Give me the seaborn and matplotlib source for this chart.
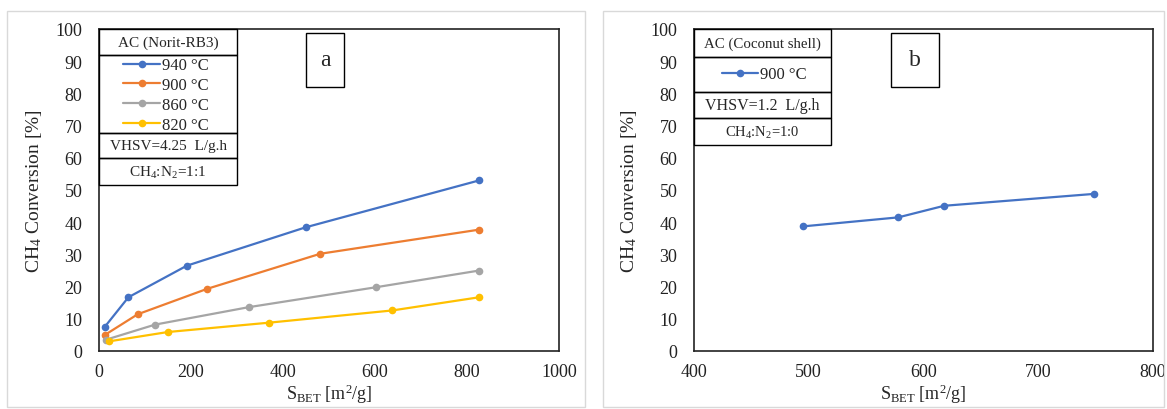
import numpy as np
import pandas as pd
import matplotlib
matplotlib.use("Agg")
import matplotlib.pyplot as plt
from matplotlib.patches import Rectangle
import seaborn as sns

# ---- data ----
temps_a = ["940 °C", "900 °C", "860 °C", "820 °C"]
x940 = [12, 64, 191, 449, 827]
y940 = [7.4, 16.7, 26.5, 38.4, 53.0]
x900 = [14, 84, 235, 481, 827]
y900 = [5.1, 11.4, 19.3, 30.2, 37.7]
x860 = [15, 122, 325, 602, 827]
y860 = [3.5, 8.2, 13.6, 19.8, 25.0]
x820 = [22, 150, 370, 638, 827]
y820 = [3.0, 5.9, 8.8, 12.6, 16.7]

xb = [495, 578, 618, 749]
yb = [38.7, 41.5, 45.1, 48.8]

yticks = [0, 10, 20, 30, 40, 50, 60, 70, 80, 90, 100]
xticks_a = [0, 200, 400, 600, 800, 1000]
xticks_b = [400, 500, 600, 700, 800]

colors = ["#4472C4", "#ED7D31", "#A5A5A5", "#FFC000"]

sns.set_theme(style="white")
plt.rcParams['font.family'] = ['Liberation Serif', 'DejaVu Serif']
plt.rcParams['mathtext.fontset'] = 'custom'
plt.rcParams['mathtext.rm'] = 'Liberation Serif'
plt.rcParams['mathtext.it'] = 'Liberation Serif:italic'

W, H = 1167, 410
fig = plt.figure(figsize=(W / 100, H / 100), dpi=100)
fig.patch.set_facecolor("white")


def fx(px):
    return px / W


def fy(py):
    return 1 - py / H


def frect(x0, y0, x1, y1, lw=1.0, ec="black"):
    r = Rectangle((fx(x0), fy(y1)), fx(x1) - fx(x0), fy(y0) - fy(y1),
                  transform=fig.transFigure, fill=False, ec=ec, lw=lw, zorder=5)
    fig.add_artist(r)


# panel frames
frect(7, 12, 585, 408, lw=1.0, ec="#d9d9d9")
frect(603, 12, 1164, 408, lw=1.0, ec="#d9d9d9")

ax1 = fig.add_axes([fx(99), fy(352), fx(559) - fx(99), fy(30) - fy(352)])
ax2 = fig.add_axes([fx(694), fy(352), fx(1153) - fx(694), fy(30) - fy(352)])

series = [(x940, y940), (x900, y900), (x860, y860), (x820, y820)]
frames = []
for t, (xs, ys) in zip(temps_a, series):
    frames.append(pd.DataFrame({"S": xs, "Conv": ys, "T": t}))
df_a = pd.concat(frames, ignore_index=True)

sns.lineplot(data=df_a, x="S", y="Conv", hue="T", hue_order=temps_a,
             palette=colors, marker="o", markersize=5.5, markeredgewidth=0,
             linewidth=1.6, sort=False, ax=ax1, legend=True)

df_b = pd.DataFrame({"S": xb, "Conv": yb, "T": "900 °C"})
sns.lineplot(data=df_b, x="S", y="Conv", hue="T", palette=["#4472C4"],
             marker="o", markersize=5.5, markeredgewidth=0, linewidth=1.6,
             sort=False, ax=ax2, legend=True)

for ax, xt in [(ax1, xticks_a), (ax2, xticks_b)]:
    ax.set_xlim(xt[0], xt[-1])
    ax.set_ylim(0, 100)
    ax.set_xticks(xt)
    ax.set_yticks(yticks)
    ax.tick_params(length=0, labelsize=13, colors="#222222")
    ax.tick_params(axis="x", pad=9)
    ax.tick_params(axis="y", pad=12)
    for s in ax.spines.values():
        s.set_visible(True)
        s.set_color("#222222")
        s.set_linewidth(1.2)
    ax.set_xlabel(r"S$_{\mathrm{BET}}$ [m$^{2}$/g]", fontsize=13, labelpad=1)
    ax.set_ylabel(r"CH$_{4}$ Conversion [%]", fontsize=14, labelpad=8)
    ax.set_facecolor("white")

# ---- table boxes for panel a ----
frect(99, 30, 237, 56)
frect(99, 56, 237, 134)
frect(99, 134, 237, 159)
frect(99, 159, 237, 186)
fig.text(fx(168), fy(43), "AC (Norit-RB3)", ha="center", va="center", fontsize=11)
fig.text(fx(168), fy(146.5), "VHSV=4.25  L/g.h", ha="center", va="center", fontsize=11)
fig.text(fx(168), fy(172.5), r"CH$_{4}$:N$_{2}$=1:1", ha="center", va="center", fontsize=11)

h, l = ax1.get_legend_handles_labels()
ax1.legend(h, l, loc="center", bbox_to_anchor=(fx(166), fy(96)),
           bbox_transform=fig.transFigure, frameon=False, fontsize=12,
           handlelength=2.2, handletextpad=0.1, labelspacing=0.22,
           borderpad=0, borderaxespad=0)

# label box a
frect(306, 34, 344, 88)
fig.text(fx(325), fy(61), "a", ha="center", va="center", fontsize=17)

# ---- table boxes for panel b ----
frect(694, 30, 831, 58)
frect(694, 58, 831, 93)
frect(694, 93, 831, 119)
frect(694, 119, 831, 146)
fig.text(fx(762.5), fy(44), "AC (Coconut shell)", ha="center", va="center", fontsize=10.7)
fig.text(fx(762.5), fy(106), "VHSV=1.2  L/g.h", ha="center", va="center", fontsize=11.5)
fig.text(fx(762.5), fy(132.5), r"CH$_{4}$:N$_{2}$=1:0", ha="center", va="center", fontsize=10.5)

h, l = ax2.get_legend_handles_labels()
ax2.legend(h, l, loc="center", bbox_to_anchor=(fx(764), fy(75.5)),
           bbox_transform=fig.transFigure, frameon=False, fontsize=12,
           handlelength=2.2, handletextpad=0.1, borderpad=0, borderaxespad=0)

frect(891, 34, 939, 88)
fig.text(fx(915), fy(61), "b", ha="center", va="center", fontsize=17)

fig.savefig("out.png", dpi=100, facecolor="white")
